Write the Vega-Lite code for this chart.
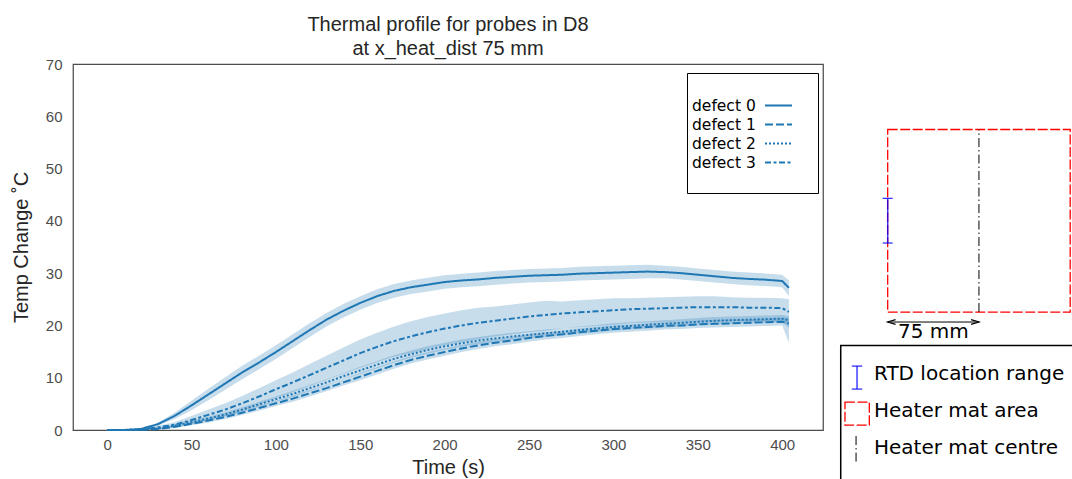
{
  "$schema": "https://vega.github.io/schema/vega-lite/v6.json",
  "padding": {"left": 10, "top": 14, "right": 0, "bottom": 0},
  "bounds": "flush",
  "spacing": 14,
  "config": {
    "font": "Liberation Sans",
    "view": {"stroke": "#4d4d4d", "strokeWidth": 1.25}
  },
  "resolve": {"scale": {"strokeDash": "independent"}, "legend": {"strokeDash": "independent"}},
  "datasets": {
    "curves": [
      {"t":0,"defect":"defect 0","mean":0,"lo":0,"hi":0},
      {"t":10,"defect":"defect 0","mean":0,"lo":0,"hi":0},
      {"t":20,"defect":"defect 0","mean":0.2,"lo":0.1,"hi":0.3},
      {"t":30,"defect":"defect 0","mean":1.1,"lo":0.8,"hi":1.4},
      {"t":40,"defect":"defect 0","mean":2.7,"lo":2.1,"hi":3.3},
      {"t":50,"defect":"defect 0","mean":4.7,"lo":3.8,"hi":5.6},
      {"t":60,"defect":"defect 0","mean":6.8,"lo":5.7,"hi":7.9},
      {"t":70,"defect":"defect 0","mean":8.9,"lo":7.7,"hi":10.1},
      {"t":80,"defect":"defect 0","mean":11.0,"lo":9.7,"hi":12.3},
      {"t":90,"defect":"defect 0","mean":12.9,"lo":11.6,"hi":14.2},
      {"t":100,"defect":"defect 0","mean":14.9,"lo":13.6,"hi":16.2},
      {"t":110,"defect":"defect 0","mean":17.0,"lo":15.7,"hi":18.3},
      {"t":120,"defect":"defect 0","mean":19.1,"lo":17.8,"hi":20.4},
      {"t":130,"defect":"defect 0","mean":21.1,"lo":19.8,"hi":22.4},
      {"t":140,"defect":"defect 0","mean":22.8,"lo":21.5,"hi":24.1},
      {"t":150,"defect":"defect 0","mean":24.3,"lo":23.0,"hi":25.6},
      {"t":160,"defect":"defect 0","mean":25.6,"lo":24.3,"hi":26.9},
      {"t":170,"defect":"defect 0","mean":26.6,"lo":25.3,"hi":27.9},
      {"t":180,"defect":"defect 0","mean":27.3,"lo":26.0,"hi":28.6},
      {"t":190,"defect":"defect 0","mean":27.8,"lo":26.5,"hi":29.1},
      {"t":200,"defect":"defect 0","mean":28.3,"lo":27.0,"hi":29.6},
      {"t":210,"defect":"defect 0","mean":28.6,"lo":27.3,"hi":29.9},
      {"t":220,"defect":"defect 0","mean":28.8,"lo":27.5,"hi":30.1},
      {"t":230,"defect":"defect 0","mean":29.1,"lo":27.8,"hi":30.4},
      {"t":240,"defect":"defect 0","mean":29.3,"lo":28.0,"hi":30.6},
      {"t":250,"defect":"defect 0","mean":29.5,"lo":28.2,"hi":30.8},
      {"t":260,"defect":"defect 0","mean":29.6,"lo":28.3,"hi":30.9},
      {"t":270,"defect":"defect 0","mean":29.7,"lo":28.4,"hi":31.0},
      {"t":280,"defect":"defect 0","mean":29.9,"lo":28.6,"hi":31.2},
      {"t":290,"defect":"defect 0","mean":30.0,"lo":28.7,"hi":31.3},
      {"t":300,"defect":"defect 0","mean":30.1,"lo":28.8,"hi":31.4},
      {"t":310,"defect":"defect 0","mean":30.2,"lo":28.9,"hi":31.5},
      {"t":320,"defect":"defect 0","mean":30.3,"lo":29.0,"hi":31.6},
      {"t":330,"defect":"defect 0","mean":30.2,"lo":29.0,"hi":31.4},
      {"t":340,"defect":"defect 0","mean":30.0,"lo":28.8,"hi":31.2},
      {"t":350,"defect":"defect 0","mean":29.7,"lo":28.5,"hi":30.9},
      {"t":360,"defect":"defect 0","mean":29.4,"lo":28.2,"hi":30.6},
      {"t":370,"defect":"defect 0","mean":29.1,"lo":27.9,"hi":30.3},
      {"t":380,"defect":"defect 0","mean":28.9,"lo":27.7,"hi":30.1},
      {"t":390,"defect":"defect 0","mean":28.75,"lo":27.55,"hi":29.95},
      {"t":400,"defect":"defect 0","mean":28.5,"lo":27.3,"hi":29.7},
      {"t":404,"defect":"defect 0","mean":27.2,"lo":25.6,"hi":28.6},

      {"t":0,"defect":"defect 1","mean":0,"lo":0,"hi":0},
      {"t":10,"defect":"defect 1","mean":0,"lo":0,"hi":0},
      {"t":20,"defect":"defect 1","mean":0.03,"lo":0.01,"hi":0.05},
      {"t":30,"defect":"defect 1","mean":0.2,"lo":0.1,"hi":0.3},
      {"t":40,"defect":"defect 1","mean":0.6,"lo":0.4,"hi":0.8},
      {"t":50,"defect":"defect 1","mean":1.2,"lo":0.9,"hi":1.5},
      {"t":60,"defect":"defect 1","mean":1.8,"lo":1.45,"hi":2.15},
      {"t":70,"defect":"defect 1","mean":2.5,"lo":2.1,"hi":2.9},
      {"t":80,"defect":"defect 1","mean":3.3,"lo":2.85,"hi":3.75},
      {"t":90,"defect":"defect 1","mean":4.2,"lo":3.7,"hi":4.7},
      {"t":100,"defect":"defect 1","mean":5.1,"lo":4.6,"hi":5.6},
      {"t":110,"defect":"defect 1","mean":6.0,"lo":5.4,"hi":6.6},
      {"t":120,"defect":"defect 1","mean":7.0,"lo":6.4,"hi":7.6},
      {"t":130,"defect":"defect 1","mean":8.0,"lo":7.4,"hi":8.6},
      {"t":140,"defect":"defect 1","mean":9.1,"lo":8.5,"hi":9.7},
      {"t":150,"defect":"defect 1","mean":10.2,"lo":9.5,"hi":10.9},
      {"t":160,"defect":"defect 1","mean":11.3,"lo":10.6,"hi":12.0},
      {"t":170,"defect":"defect 1","mean":12.4,"lo":11.7,"hi":13.1},
      {"t":180,"defect":"defect 1","mean":13.4,"lo":12.7,"hi":14.1},
      {"t":190,"defect":"defect 1","mean":14.2,"lo":13.5,"hi":14.9},
      {"t":200,"defect":"defect 1","mean":14.9,"lo":14.2,"hi":15.6},
      {"t":210,"defect":"defect 1","mean":15.6,"lo":14.9,"hi":16.3},
      {"t":220,"defect":"defect 1","mean":16.2,"lo":15.5,"hi":16.9},
      {"t":230,"defect":"defect 1","mean":16.7,"lo":16.0,"hi":17.4},
      {"t":240,"defect":"defect 1","mean":17.1,"lo":16.4,"hi":17.8},
      {"t":250,"defect":"defect 1","mean":17.6,"lo":16.9,"hi":18.3},
      {"t":260,"defect":"defect 1","mean":18.0,"lo":17.3,"hi":18.7},
      {"t":270,"defect":"defect 1","mean":18.3,"lo":17.6,"hi":19.0},
      {"t":280,"defect":"defect 1","mean":18.7,"lo":18.0,"hi":19.4},
      {"t":290,"defect":"defect 1","mean":19.0,"lo":18.3,"hi":19.7},
      {"t":300,"defect":"defect 1","mean":19.3,"lo":18.6,"hi":20.0},
      {"t":310,"defect":"defect 1","mean":19.5,"lo":18.8,"hi":20.2},
      {"t":320,"defect":"defect 1","mean":19.7,"lo":19.0,"hi":20.4},
      {"t":330,"defect":"defect 1","mean":19.9,"lo":19.2,"hi":20.6},
      {"t":340,"defect":"defect 1","mean":20.0,"lo":19.3,"hi":20.7},
      {"t":350,"defect":"defect 1","mean":20.2,"lo":19.5,"hi":20.9},
      {"t":360,"defect":"defect 1","mean":20.3,"lo":19.6,"hi":21.0},
      {"t":370,"defect":"defect 1","mean":20.4,"lo":19.7,"hi":21.1},
      {"t":380,"defect":"defect 1","mean":20.5,"lo":19.8,"hi":21.2},
      {"t":390,"defect":"defect 1","mean":20.6,"lo":19.9,"hi":21.3},
      {"t":400,"defect":"defect 1","mean":20.7,"lo":20.0,"hi":21.4},
      {"t":404,"defect":"defect 1","mean":20.4,"lo":16.7,"hi":21.4},

      {"t":0,"defect":"defect 2","mean":0,"lo":0,"hi":0},
      {"t":10,"defect":"defect 2","mean":0,"lo":0,"hi":0},
      {"t":20,"defect":"defect 2","mean":0.05,"lo":0.03,"hi":0.07},
      {"t":30,"defect":"defect 2","mean":0.3,"lo":0.2,"hi":0.4},
      {"t":40,"defect":"defect 2","mean":0.8,"lo":0.6,"hi":1.0},
      {"t":50,"defect":"defect 2","mean":1.5,"lo":1.2,"hi":1.8},
      {"t":60,"defect":"defect 2","mean":2.2,"lo":1.85,"hi":2.55},
      {"t":70,"defect":"defect 2","mean":3.0,"lo":2.6,"hi":3.4},
      {"t":80,"defect":"defect 2","mean":3.9,"lo":3.45,"hi":4.35},
      {"t":90,"defect":"defect 2","mean":4.9,"lo":4.4,"hi":5.4},
      {"t":100,"defect":"defect 2","mean":5.9,"lo":5.4,"hi":6.4},
      {"t":110,"defect":"defect 2","mean":6.9,"lo":6.3,"hi":7.5},
      {"t":120,"defect":"defect 2","mean":8.0,"lo":7.4,"hi":8.6},
      {"t":130,"defect":"defect 2","mean":9.1,"lo":8.5,"hi":9.7},
      {"t":140,"defect":"defect 2","mean":10.3,"lo":9.7,"hi":10.9},
      {"t":150,"defect":"defect 2","mean":11.4,"lo":10.7,"hi":12.1},
      {"t":160,"defect":"defect 2","mean":12.5,"lo":11.8,"hi":13.2},
      {"t":170,"defect":"defect 2","mean":13.6,"lo":12.9,"hi":14.3},
      {"t":180,"defect":"defect 2","mean":14.5,"lo":13.8,"hi":15.2},
      {"t":190,"defect":"defect 2","mean":15.3,"lo":14.6,"hi":16.0},
      {"t":200,"defect":"defect 2","mean":16.0,"lo":15.3,"hi":16.7},
      {"t":210,"defect":"defect 2","mean":16.6,"lo":15.9,"hi":17.3},
      {"t":220,"defect":"defect 2","mean":17.1,"lo":16.4,"hi":17.8},
      {"t":230,"defect":"defect 2","mean":17.5,"lo":16.8,"hi":18.2},
      {"t":240,"defect":"defect 2","mean":17.9,"lo":17.2,"hi":18.6},
      {"t":250,"defect":"defect 2","mean":18.2,"lo":17.5,"hi":18.9},
      {"t":260,"defect":"defect 2","mean":18.5,"lo":17.8,"hi":19.2},
      {"t":270,"defect":"defect 2","mean":18.8,"lo":18.1,"hi":19.5},
      {"t":280,"defect":"defect 2","mean":19.1,"lo":18.4,"hi":19.8},
      {"t":290,"defect":"defect 2","mean":19.4,"lo":18.7,"hi":20.1},
      {"t":300,"defect":"defect 2","mean":19.7,"lo":19.0,"hi":20.4},
      {"t":310,"defect":"defect 2","mean":19.9,"lo":19.2,"hi":20.6},
      {"t":320,"defect":"defect 2","mean":20.1,"lo":19.4,"hi":20.8},
      {"t":330,"defect":"defect 2","mean":20.3,"lo":19.6,"hi":21.0},
      {"t":340,"defect":"defect 2","mean":20.5,"lo":19.8,"hi":21.2},
      {"t":350,"defect":"defect 2","mean":20.7,"lo":20.0,"hi":21.4},
      {"t":360,"defect":"defect 2","mean":20.9,"lo":20.2,"hi":21.6},
      {"t":370,"defect":"defect 2","mean":21.0,"lo":20.3,"hi":21.7},
      {"t":380,"defect":"defect 2","mean":21.1,"lo":20.4,"hi":21.8},
      {"t":390,"defect":"defect 2","mean":21.2,"lo":20.5,"hi":21.9},
      {"t":400,"defect":"defect 2","mean":21.3,"lo":20.6,"hi":22.0},
      {"t":404,"defect":"defect 2","mean":21.0,"lo":19.5,"hi":21.8},

      {"t":0,"defect":"defect 3","mean":0,"lo":0,"hi":0},
      {"t":10,"defect":"defect 3","mean":0,"lo":0,"hi":0},
      {"t":20,"defect":"defect 3","mean":0.1,"lo":0.05,"hi":0.15},
      {"t":30,"defect":"defect 3","mean":0.5,"lo":0.2,"hi":0.8},
      {"t":40,"defect":"defect 3","mean":1.0,"lo":0.5,"hi":1.5},
      {"t":50,"defect":"defect 3","mean":1.9,"lo":1.1,"hi":2.7},
      {"t":60,"defect":"defect 3","mean":2.9,"lo":1.9,"hi":3.9},
      {"t":70,"defect":"defect 3","mean":3.9,"lo":2.7,"hi":5.1},
      {"t":80,"defect":"defect 3","mean":5.1,"lo":3.7,"hi":6.5},
      {"t":90,"defect":"defect 3","mean":6.4,"lo":4.8,"hi":8.0},
      {"t":100,"defect":"defect 3","mean":7.8,"lo":6.1,"hi":9.5},
      {"t":110,"defect":"defect 3","mean":9.1,"lo":7.2,"hi":11.0},
      {"t":120,"defect":"defect 3","mean":10.5,"lo":8.4,"hi":12.6},
      {"t":130,"defect":"defect 3","mean":11.9,"lo":9.6,"hi":14.2},
      {"t":140,"defect":"defect 3","mean":13.3,"lo":10.8,"hi":15.8},
      {"t":150,"defect":"defect 3","mean":14.7,"lo":11.9,"hi":17.3},
      {"t":160,"defect":"defect 3","mean":15.9,"lo":13.0,"hi":18.6},
      {"t":170,"defect":"defect 3","mean":17.0,"lo":14.0,"hi":19.8},
      {"t":180,"defect":"defect 3","mean":17.9,"lo":14.7,"hi":20.8},
      {"t":190,"defect":"defect 3","mean":18.7,"lo":15.5,"hi":21.6},
      {"t":200,"defect":"defect 3","mean":19.4,"lo":16.2,"hi":22.3},
      {"t":210,"defect":"defect 3","mean":20.0,"lo":16.8,"hi":22.9},
      {"t":220,"defect":"defect 3","mean":20.5,"lo":17.3,"hi":23.4},
      {"t":230,"defect":"defect 3","mean":20.9,"lo":17.9,"hi":23.6},
      {"t":240,"defect":"defect 3","mean":21.3,"lo":18.3,"hi":24.0},
      {"t":250,"defect":"defect 3","mean":21.7,"lo":18.7,"hi":24.4},
      {"t":260,"defect":"defect 3","mean":22.0,"lo":19.0,"hi":24.7},
      {"t":270,"defect":"defect 3","mean":22.3,"lo":19.5,"hi":24.6},
      {"t":280,"defect":"defect 3","mean":22.5,"lo":19.7,"hi":24.8},
      {"t":290,"defect":"defect 3","mean":22.7,"lo":19.9,"hi":25.0},
      {"t":300,"defect":"defect 3","mean":22.9,"lo":20.1,"hi":25.2},
      {"t":310,"defect":"defect 3","mean":23.1,"lo":20.4,"hi":25.2},
      {"t":320,"defect":"defect 3","mean":23.2,"lo":20.5,"hi":25.3},
      {"t":330,"defect":"defect 3","mean":23.3,"lo":20.6,"hi":25.4},
      {"t":340,"defect":"defect 3","mean":23.4,"lo":20.7,"hi":25.5},
      {"t":350,"defect":"defect 3","mean":23.5,"lo":20.8,"hi":25.6},
      {"t":360,"defect":"defect 3","mean":23.5,"lo":20.8,"hi":25.6},
      {"t":370,"defect":"defect 3","mean":23.5,"lo":20.9,"hi":25.4},
      {"t":380,"defect":"defect 3","mean":23.4,"lo":20.8,"hi":25.3},
      {"t":390,"defect":"defect 3","mean":23.4,"lo":20.8,"hi":25.3},
      {"t":400,"defect":"defect 3","mean":23.3,"lo":20.7,"hi":25.2},
      {"t":404,"defect":"defect 3","mean":22.6,"lo":20.0,"hi":25.0}
    ],
    "legbox": [{"x": -38.6, "x2": 400, "y": -27.4, "y2": -400}],
    "heater": [
      {"x": 0, "x2": 150, "y": 0, "y2": 150},
      {"x": -35.1, "x2": -15.1, "y": -74.0, "y2": -92.9}
    ],
    "centre": [
      {"x": 75, "y": 0, "y2": 150},
      {"x": -26.0, "y": -101.9, "y2": -124.1}
    ],
    "rtd": [
      {"x": 0, "y": 56.7, "y2": 93.4},
      {"x": -25.2, "y": -44.4, "y2": -63.3}
    ],
    "rtdcaps": [
      {"x": -4.1, "x2": 4.1, "y": 56.7},
      {"x": -4.1, "x2": 4.1, "y": 93.4},
      {"x": -29.5, "x2": -20.9, "y": -44.4},
      {"x": -29.5, "x2": -20.9, "y": -63.3}
    ],
    "arrow": [{"x": 0, "x2": 75, "y": -8.2}],
    "headL": [{"x": 3.2, "y": -8.2}],
    "headR": [{"x": 71.8, "y": -8.2}],
    "dimtext": [{"x": 37.5, "y": -16.8, "label": "75 mm"}],
    "legtext": [
      {"x": -11.3, "y": -51.2, "label": "RTD location range"},
      {"x": -11.3, "y": -81.3, "label": "Heater mat area"},
      {"x": -11.3, "y": -111.5, "label": "Heater mat centre"}
    ]
  },
  "hconcat": [
    {
      "width": 750,
      "height": 366,
      "title": {
        "text": ["Thermal profile for probes in D8", "at x_heat_dist 75 mm"],
        "fontSize": 20,
        "font": "Liberation Sans",
        "fontWeight": "normal",
        "color": "#262626",
        "lineHeight": 24,
        "offset": -2,
        "anchor": "middle"
      },
      "data": {"name": "curves"},
      "layer": [
        {
          "mark": {"type": "area", "color": "#1f77b4", "opacity": 0.25},
          "encoding": {
            "x": {"field": "t", "type": "quantitative",
                  "scale": {"domain": [-20.2, 424.2], "nice": false, "zero": false},
                  "axis": {"title": "Time (s)", "values": [0,50,100,150,200,250,300,350,400],
                           "grid": false, "ticks": false, "domain": false,
                           "labelFontSize": 15, "labelColor": "#4d4d4d", "labelPadding": 7,
                           "titleFontSize": 20, "titleColor": "#262626", "titleFontWeight": "normal", "titlePadding": 5}},
            "y": {"field": "lo", "type": "quantitative",
                  "scale": {"domain": [0, 70], "nice": false},
                  "axis": {"title": "Temp Change ˚C", "values": [0,10,20,30,40,50,60,70],
                           "grid": false, "ticks": false, "domain": false,
                           "labelFontSize": 15, "labelColor": "#4d4d4d", "labelPadding": 11,
                           "titleFontSize": 20, "titleColor": "#262626", "titleFontWeight": "normal", "titlePadding": 14}},
            "y2": {"field": "hi"},
            "detail": {"field": "defect"}
          }
        },
        {
          "mark": {"type": "line", "color": "#1f77b4", "strokeWidth": 2},
          "encoding": {
            "x": {"field": "t", "type": "quantitative"},
            "y": {"field": "mean", "type": "quantitative"},
            "strokeDash": {
              "field": "defect", "type": "nominal",
              "scale": {"domain": ["defect 0", "defect 1", "defect 2", "defect 3"],
                        "range": [[1, 0], [8, 3], [2, 2], [6, 2.5, 3, 2.5]]},
              "legend": {
                "orient": "none", "legendX": 614, "legendY": 9,
                "title": null,
                "labelFont": "DejaVu Sans", "labelFontSize": 15.5, "labelColor": "black",
                "labelAlign": "left", "labelOffset": -97,
                "symbolType": "M-1.42,0H1.42", "symbolSize": 361, "symbolStrokeWidth": 2,
                "symbolStrokeColor": "#1f77b4", "symbolFillColor": "transparent", "symbolOffset": 59,
                "padding": 22, "rowPadding": 0,
                "strokeColor": "black", "fillColor": "white", "cornerRadius": 0
              }
            }
          }
        }
      ]
    },
    {
      "width": 236,
      "height": 416,
      "view": {"stroke": null},
      "layer": [
        {
          "data": {"name": "legbox"},
          "mark": {"type": "rect", "fillOpacity": 0, "stroke": "black", "strokeWidth": 1.5, "clip": true},
          "encoding": {
            "x": {"field": "x", "type": "quantitative", "scale": {"domain": [-41.66, 152.3], "nice": false, "zero": false}, "axis": null},
            "x2": {"field": "x2"},
            "y": {"field": "y", "type": "quantitative", "scale": {"domain": [-138.0, 203.8], "nice": false, "zero": false}, "axis": null},
            "y2": {"field": "y2"}
          }
        },
        {
          "data": {"name": "heater"},
          "mark": {"type": "rect", "fillOpacity": 0, "stroke": "#ff0000", "strokeWidth": 1.3, "strokeDash": [10, 2.5]},
          "encoding": {
            "x": {"field": "x", "type": "quantitative"},
            "x2": {"field": "x2"},
            "y": {"field": "y", "type": "quantitative"},
            "y2": {"field": "y2"}
          }
        },
        {
          "data": {"name": "centre"},
          "mark": {"type": "rule", "color": "black", "strokeWidth": 1, "strokeDash": [9, 3, 1.5, 3]},
          "encoding": {
            "x": {"field": "x", "type": "quantitative"},
            "y": {"field": "y", "type": "quantitative"},
            "y2": {"field": "y2"}
          }
        },
        {
          "data": {"name": "rtd"},
          "mark": {"type": "rule", "color": "#0000ff", "strokeWidth": 1.5, "opacity": 0.75},
          "encoding": {
            "x": {"field": "x", "type": "quantitative"},
            "y": {"field": "y", "type": "quantitative"},
            "y2": {"field": "y2"}
          }
        },
        {
          "data": {"name": "rtdcaps"},
          "mark": {"type": "rule", "color": "#0000ff", "strokeWidth": 1.3, "opacity": 0.8},
          "encoding": {
            "x": {"field": "x", "type": "quantitative"},
            "x2": {"field": "x2"},
            "y": {"field": "y", "type": "quantitative"}
          }
        },
        {
          "data": {"name": "arrow"},
          "mark": {"type": "rule", "color": "black", "strokeWidth": 1},
          "encoding": {
            "x": {"field": "x", "type": "quantitative"},
            "x2": {"field": "x2"},
            "y": {"field": "y", "type": "quantitative"}
          }
        },
        {
          "data": {"name": "headL"},
          "mark": {"type": "point", "shape": "M1,-0.6L-1,0L1,0.6", "filled": false, "color": "black", "strokeWidth": 1.2, "size": 64, "opacity": 1},
          "encoding": {
            "x": {"field": "x", "type": "quantitative"},
            "y": {"field": "y", "type": "quantitative"}
          }
        },
        {
          "data": {"name": "headR"},
          "mark": {"type": "point", "shape": "M-1,-0.6L1,0L-1,0.6", "filled": false, "color": "black", "strokeWidth": 1.2, "size": 64, "opacity": 1},
          "encoding": {
            "x": {"field": "x", "type": "quantitative"},
            "y": {"field": "y", "type": "quantitative"}
          }
        },
        {
          "data": {"name": "dimtext"},
          "mark": {"type": "text", "font": "DejaVu Sans", "fontSize": 20, "color": "black", "align": "center", "baseline": "middle"},
          "encoding": {
            "x": {"field": "x", "type": "quantitative"},
            "y": {"field": "y", "type": "quantitative"},
            "text": {"field": "label"}
          }
        },
        {
          "data": {"name": "legtext"},
          "mark": {"type": "text", "font": "DejaVu Sans", "fontSize": 20, "color": "black", "align": "left", "baseline": "middle"},
          "encoding": {
            "x": {"field": "x", "type": "quantitative"},
            "y": {"field": "y", "type": "quantitative"},
            "text": {"field": "label"}
          }
        }
      ]
    }
  ]
}
